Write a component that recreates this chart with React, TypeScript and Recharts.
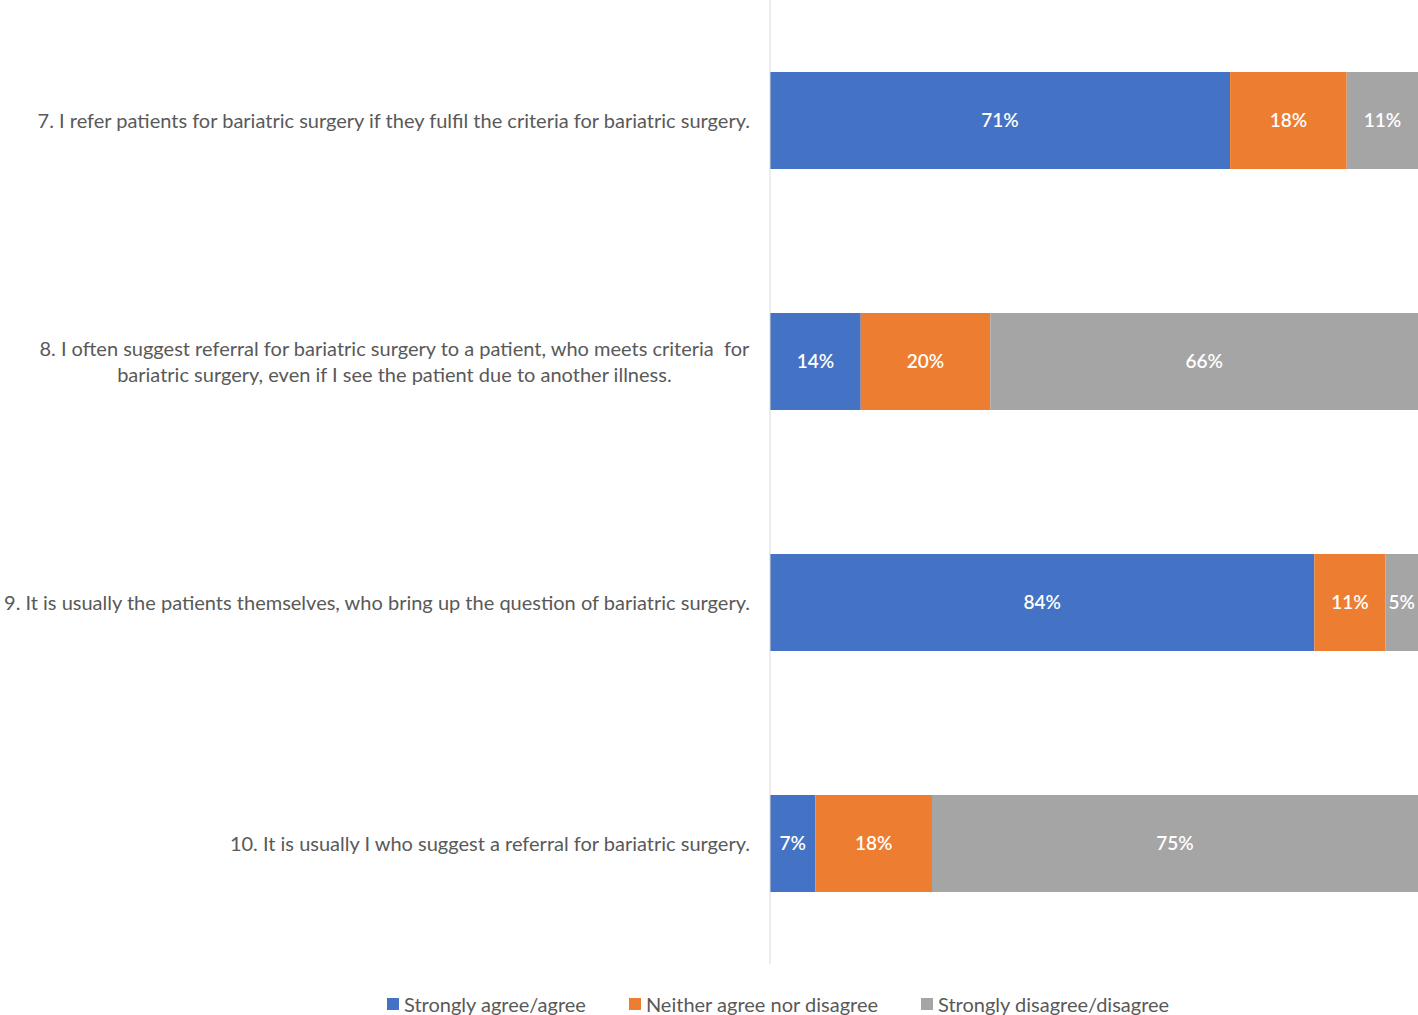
import React from 'react';
import { BarChart, Bar, XAxis, YAxis, Legend, LabelList } from 'recharts';

const questions = [
  '7. I refer patients for bariatric surgery if they fulfil the criteria for bariatric surgery.',
  '8. I often suggest referral for bariatric surgery to a patient, who meets criteria  for\nbariatric surgery, even if I see the patient due to another illness.',
  '9. It is usually the patients themselves, who bring up the question of bariatric surgery.',
  '10. It is usually I who suggest a referral for bariatric surgery.',
];
const agree = [71, 14, 84, 7];
const neutral = [18, 20, 11, 18];
const disagree = [11, 66, 5, 75];

const seriesNames = ['Strongly agree/agree', 'Neither agree nor disagree', 'Strongly disagree/disagree'];
const COLORS = ['#4472C4', '#ED7D31', '#A5A5A5'];

const data = questions.map((q, i) => ({
  question: q,
  agree: agree[i],
  neutral: neutral[i],
  disagree: disagree[i],
}));

const FONT = 'Lato, "Open Sans", sans-serif';
const LABEL_SIZE = 20;

let ctx: CanvasRenderingContext2D | null = null;
const measure = (s: string) => {
  if (!ctx) ctx = document.createElement('canvas').getContext('2d');
  if (!ctx) return s.length * 9;
  ctx.font = `${LABEL_SIZE}px Lato`;
  return ctx.measureText(s).width;
};

// right-aligned block, lines centred inside it (like Excel)
const QuestionTick = (props: any) => {
  const { x, y, payload } = props;
  const lines: string[] = String(payload.value).split('\n');
  const lineH = 26;
  const blockW = Math.max(...lines.map(measure));
  const cx = x - blockW / 2;
  const y0 = y - ((lines.length - 1) * lineH) / 2;
  return (
    <g>
      {lines.map((l, i) => (
        <text
          key={i}
          x={lines.length > 1 ? cx : x}
          y={y0 + i * lineH}
          dy="0.35em"
          textAnchor={lines.length > 1 ? 'middle' : 'end'}
          fill="#595959"
          fontSize={LABEL_SIZE}
          fontFamily={FONT}
          style={{ whiteSpace: 'pre' }}
        >
          {l}
        </text>
      ))}
    </g>
  );
};

const renderLegend = () => (
  <div style={{ display: 'flex', paddingLeft: 387, fontFamily: FONT, fontSize: 20, color: '#595959', lineHeight: '24px' }}>
    {seriesNames.map((n, i) => (
      <div key={n} style={{ display: 'flex', alignItems: 'center', marginRight: 43 }}>
        <span style={{ width: 12, height: 12, background: COLORS[i], marginRight: 5, display: 'inline-block' }} />
        <span>{n}</span>
      </div>
    ))}
  </div>
);

const pct = (v: any) => `${v}%`;

export default function App() {
  return (
    <div style={{ position: 'absolute', top: 0, left: 0, width: 1418, height: 1015, background: '#fff' }}>
      <BarChart
        width={1418}
        height={1015}
        data={data}
        layout="vertical"
        margin={{ top: 0, right: 0, bottom: 51, left: 0 }}
        barSize={97}
      >
        <XAxis type="number" domain={[0, 100]} hide />
        <YAxis
          type="category"
          dataKey="question"
          width={770}
          axisLine={{ stroke: '#D9D9D9' }}
          tickLine={false}
          tickMargin={14}
          tick={<QuestionTick />}
          interval={0}
        />
        <Legend
          verticalAlign="middle"
          content={renderLegend}
          wrapperStyle={{ top: 992, left: 0, width: 1418 }}
        />
        <Bar dataKey="agree" name={seriesNames[0]} stackId="a" fill={COLORS[0]} isAnimationActive={false}>
          <LabelList dataKey="agree" position="center" fill="#fff" fontSize={19} fontFamily={FONT} fontWeight={600} formatter={pct} />
        </Bar>
        <Bar dataKey="neutral" name={seriesNames[1]} stackId="a" fill={COLORS[1]} isAnimationActive={false}>
          <LabelList dataKey="neutral" position="center" fill="#fff" fontSize={19} fontFamily={FONT} fontWeight={600} formatter={pct} />
        </Bar>
        <Bar dataKey="disagree" name={seriesNames[2]} stackId="a" fill={COLORS[2]} isAnimationActive={false}>
          <LabelList dataKey="disagree" position="center" fill="#fff" fontSize={19} fontFamily={FONT} fontWeight={600} formatter={pct} />
        </Bar>
      </BarChart>
    </div>
  );
}
